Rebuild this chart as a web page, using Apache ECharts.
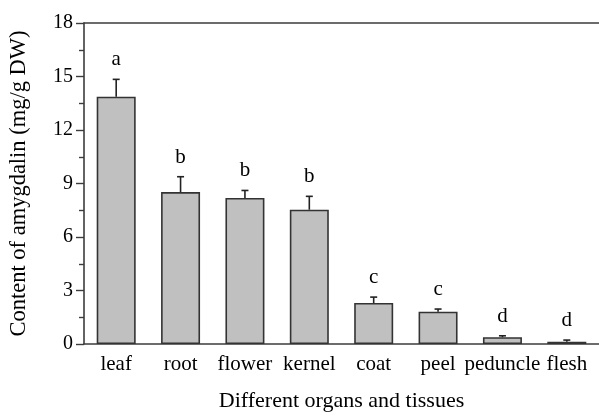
<!DOCTYPE html>
<html>
<head>
<meta charset="utf-8">
<script src="https://cdn.jsdelivr.net/npm/echarts@6/dist/echarts.min.js"></script>
<style>html,body{margin:0;padding:0;background:#fff;}#c{width:599px;height:417px;}</style>
</head>
<body>
<div id="c"></div>
<script>
const categories = ['leaf', 'root', 'flower', 'kernel', 'coat', 'peel', 'peduncle', 'flesh'];
const means = [13.87, 8.52, 8.19, 7.53, 2.30, 1.81, 0.38, 0.13];
const errors = [0.97, 0.86, 0.42, 0.75, 0.33, 0.15, 0.08, 0.09];
const letters = ['a', 'b', 'b', 'b', 'c', 'c', 'd', 'd'];
const yTicks = [0, 3, 6, 9, 12, 15, 18];

const FONT = '"Liberation Serif", "Times New Roman", serif';
const LINE = '#3c3c3c';

const chart = echarts.init(document.getElementById('c'), null, {renderer: 'canvas'});
const option = {
  animation: false,
  backgroundColor: '#ffffff',
  grid: {left: 84, right: -1, top: 23, bottom: 66, containLabel: false},
  xAxis: [{
    type: 'category',
    data: categories,
    position: 'bottom',
    name: 'Different organs and tissues',
    nameLocation: 'middle',
    nameGap: 46,
    nameTextStyle: {fontFamily: FONT, fontSize: 22, color: '#000'},
    axisLine: {lineStyle: {color: LINE, width: 1.6}},
    axisTick: {alignWithLabel: true, length: 6, lineStyle: {color: LINE, width: 1.4}},
    axisLabel: {fontFamily: FONT, fontSize: 21, color: '#000', margin: 10, interval: 0},
    splitLine: {show: false}
  }, {
    type: 'category',
    data: categories,
    position: 'top',
    axisLine: {lineStyle: {color: LINE, width: 1.6}},
    axisTick: {show: false},
    axisLabel: {show: false}
  }],
  yAxis: {
    type: 'value',
    min: yTicks[0],
    max: yTicks[yTicks.length - 1],
    interval: 3,
    name: 'Content of amygdalin (mg/g DW)',
    nameLocation: 'middle',
    nameGap: 53,
    nameTextStyle: {fontFamily: FONT, fontSize: 22.5, color: '#000'},
    axisLine: {show: true, lineStyle: {color: LINE, width: 1.6}},
    axisTick: {show: true, length: 8, lineStyle: {color: LINE, width: 1.4}},
    minorTick: {show: true, splitNumber: 2, length: 5, lineStyle: {color: LINE, width: 1.4}},
    axisLabel: {fontFamily: FONT, fontSize: 20, color: '#000', margin: 11},
    splitLine: {show: false}
  },
  series: [{
    type: 'bar',
    data: means,
    barWidth: 39,
    itemStyle: {color: '#c0c0c0', borderColor: '#333', borderWidth: 1.6}
  }, {
    type: 'custom',
    data: means.map((m, i) => [i, m, m + errors[i]]),
    renderItem: function (params, api) {
      const i = api.value(0);
      const top = api.coord([i, api.value(2)]);
      const base = api.coord([i, api.value(1)]);
      const half = 3.5;
      return {
        type: 'group',
        children: [
          {type: 'line', shape: {x1: top[0], y1: base[1], x2: top[0], y2: top[1]}, style: {stroke: '#222', lineWidth: 1.6}},
          {type: 'line', shape: {x1: top[0] - half, y1: top[1], x2: top[0] + half, y2: top[1]}, style: {stroke: '#222', lineWidth: 1.6}},
          {type: 'text', style: {text: letters[params.dataIndex], x: top[0], y: top[1] - 9, textAlign: 'center', textVerticalAlign: 'bottom', fontFamily: FONT, fontSize: 21, fill: '#000'}}
        ]
      };
    },
    z: 5
  }]
};
chart.setOption(option);
</script>
</body>
</html>
